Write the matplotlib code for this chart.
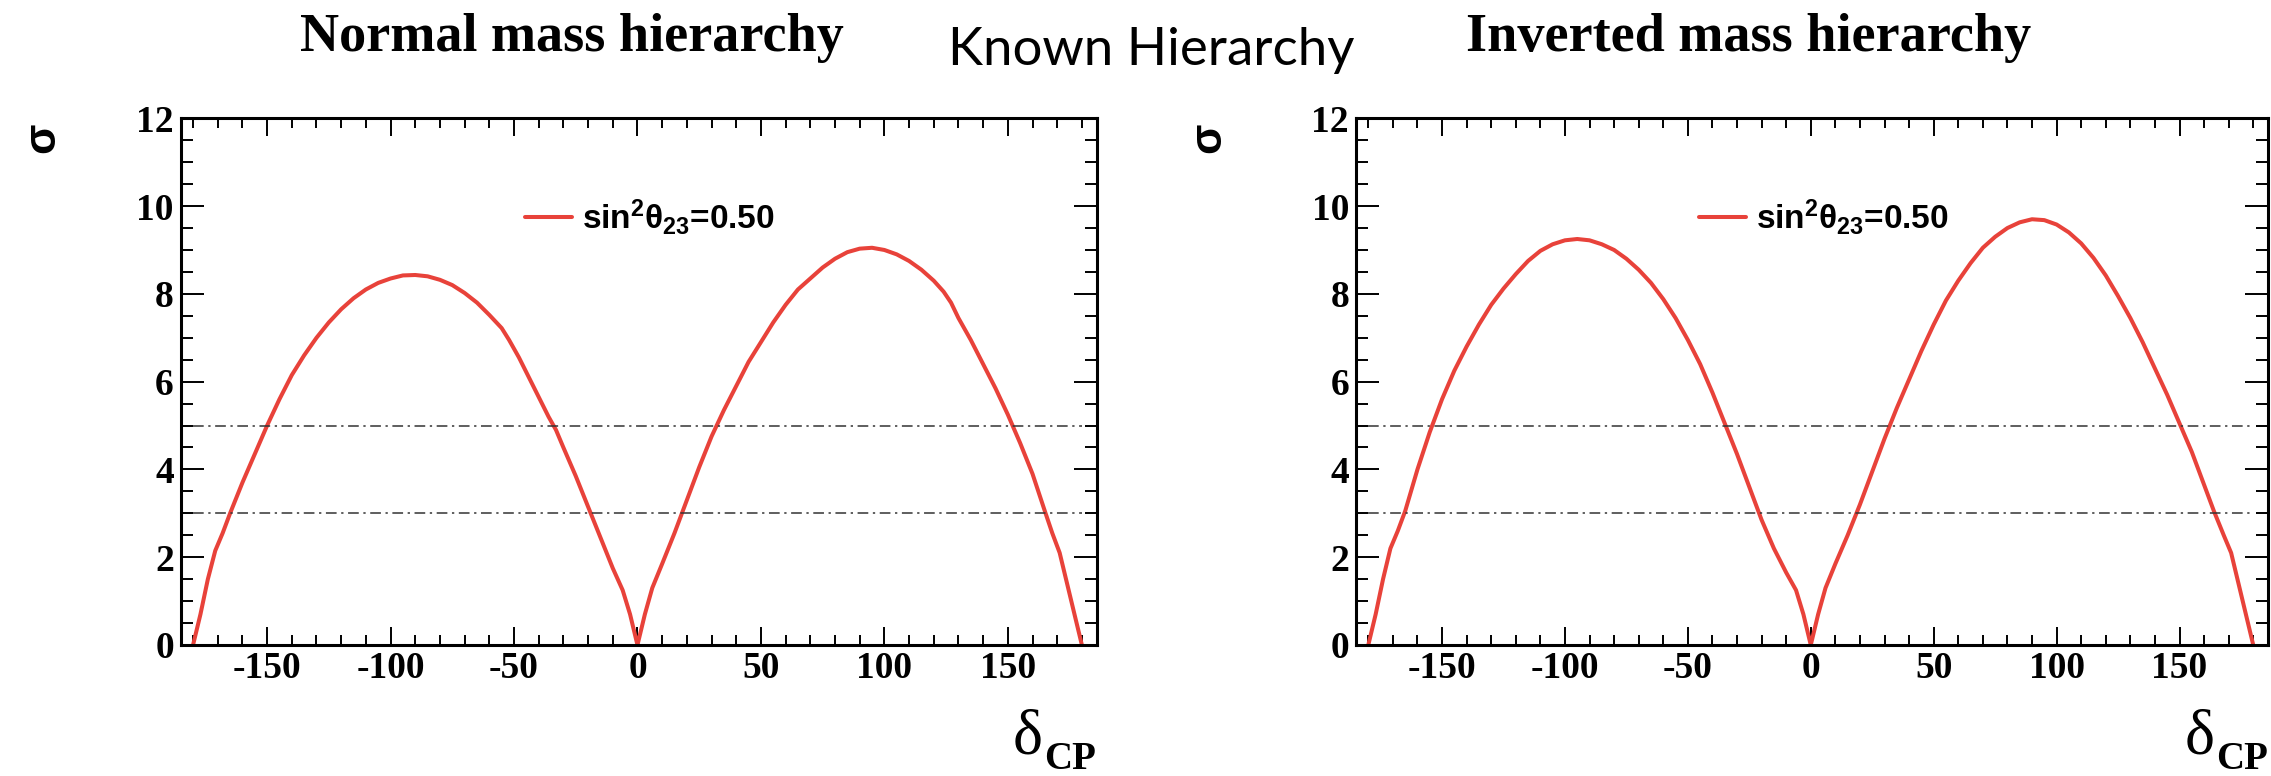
import numpy as np
import matplotlib
matplotlib.use("Agg")
import matplotlib.pyplot as plt
from matplotlib.ticker import MultipleLocator

plt.rcParams['mathtext.default'] = 'regular'
plt.rcParams['axes.unicode_minus'] = False

# delta_CP (degrees) and sigma for both hierarchies
delta_nh = [-180, -177, -174, -171, -168, -165, -160, -155, -150, -145, -140, -135,
            -130, -125, -120, -115, -110, -105, -100, -95, -90, -85, -80, -75,
            -70, -65, -60, -55, -52, -48, -44, -40, -36, -33, -30, -25, -20,
            -15, -10, -6, -3, 0,
            3, 6, 10, 15, 20, 25, 30, 35, 40, 45, 50, 55, 60, 65, 70, 75,
            80, 85, 90, 95, 100, 105, 110, 115, 120, 124, 127, 130, 135, 140,
            145, 150, 155, 160, 165, 168, 171, 174, 177, 180]
sigma_nh = [0.0, 0.7, 1.5, 2.15, 2.55, 3.0, 3.7, 4.35, 5.0, 5.6, 6.15, 6.6,
            7.0, 7.35, 7.65, 7.9, 8.1, 8.25, 8.35, 8.42, 8.43, 8.4, 8.32, 8.2,
            8.02, 7.8, 7.52, 7.22, 6.95, 6.55, 6.1, 5.65, 5.2, 4.9, 4.5, 3.85, 3.15,
            2.45, 1.75, 1.25, 0.7, 0.0,
            0.7, 1.3, 1.85, 2.55, 3.3, 4.05, 4.75, 5.35, 5.9, 6.45, 6.9, 7.35, 7.75, 8.1, 8.35, 8.6,
            8.8, 8.95, 9.03, 9.05, 9.0, 8.9, 8.75, 8.55, 8.3, 8.05, 7.8, 7.45, 6.95, 6.4,
            5.85, 5.25, 4.6, 3.9, 3.05, 2.55, 2.1, 1.4, 0.7, 0.0]

delta_ih = [-180, -177, -174, -171, -168, -165, -160, -155, -150, -145, -140, -135,
            -130, -125, -120, -115, -110, -105, -100, -95, -90, -85, -80, -75,
            -70, -65, -60, -55, -50, -45, -40, -35, -30, -25, -20,
            -15, -10, -6, -3, 0,
            3, 6, 10, 15, 20, 25, 30, 35, 40, 45, 50, 55, 60, 65, 70, 75,
            80, 85, 90, 95, 100, 105, 110, 115, 120, 125, 130, 135, 140,
            145, 150, 155, 160, 164, 168, 171, 174, 177, 180]
sigma_ih = [0.0, 0.7, 1.5, 2.2, 2.6, 3.05, 4.0, 4.85, 5.6, 6.25, 6.8, 7.3,
            7.75, 8.12, 8.45, 8.75, 8.98, 9.13, 9.22, 9.25, 9.22, 9.13, 9.0, 8.8,
            8.55, 8.25, 7.88, 7.45, 6.95, 6.4, 5.75, 5.05, 4.35, 3.6, 2.85,
            2.2, 1.65, 1.25, 0.7, 0.0,
            0.7, 1.3, 1.85, 2.5, 3.2, 3.95, 4.7, 5.4, 6.05, 6.7, 7.3, 7.85, 8.3, 8.7, 9.05, 9.3,
            9.5, 9.63, 9.7, 9.68, 9.58, 9.4, 9.15, 8.82, 8.42, 7.95, 7.45, 6.9, 6.3,
            5.7, 5.05, 4.4, 3.65, 3.05, 2.5, 2.1, 1.4, 0.7, 0.0]

levels = [5, 3]
xticks = [-150, -100, -50, 0, 50, 100, 150]
yticks = [0, 2, 4, 6, 8, 10, 12]
titles = ["Normal mass hierarchy", "Inverted mass hierarchy"]
legend_label = r'sin$^{2}\theta_{23}$=0.50'

W, H = 2271, 776
fig = plt.figure(figsize=(W / 100, H / 100), dpi=100)

red = '#e8423a'
serif = 'Liberation Serif'

def make_panel(left_px, right_px, delta, sigma):
    ax = fig.add_axes([left_px / W, (H - 645) / H, (right_px - left_px) / W, (645 - 118.3) / H])
    ax.plot(delta, sigma, color=red, lw=2.9, label=legend_label,
            solid_joinstyle='round', solid_capstyle='round')
    for lv in levels:
        ax.hlines(lv, -180, 180, colors='#333333', lw=1.1, linestyles=(0, (7, 3, 1.5, 3)))
    ax.set_xlim(-185, 186)
    ax.set_ylim(0, 12)
    ax.set_xticks(xticks)
    ax.set_yticks(yticks)
    ax.xaxis.set_minor_locator(MultipleLocator(10))
    ax.yaxis.set_minor_locator(MultipleLocator(0.5))
    ax.tick_params(which='both', direction='in', top=True, right=True, width=1.4)
    ax.tick_params(axis='y', which='major', length=16.5, pad=5)
    ax.tick_params(axis='y', which='minor', length=8.5)
    ax.tick_params(axis='x', which='major', length=13, pad=4)
    ax.tick_params(axis='x', which='minor', length=7)
    for lab in ax.get_xticklabels() + ax.get_yticklabels():
        lab.set_family(serif)
        lab.set_weight('bold')
        lab.set_fontsize(27)
    for sp in ax.spines.values():
        sp.set_linewidth(2.2)
    ax.legend(loc='center left', bbox_to_anchor=(0.376, 0.813), frameon=False,
              borderpad=0, borderaxespad=0, handlelength=1.4, handletextpad=0.3,
              prop={'family': 'Liberation Sans', 'weight': 'bold', 'size': 24})
    return ax

ax1 = make_panel(180.7, 1096.7, delta_nh, sigma_nh)
ax2 = make_panel(1356, 2268, delta_ih, sigma_ih)

# titles
fig.text(572 / W, 1 - 38 / H, titles[0], ha='center', va='center',
         family=serif, weight='bold', fontsize=39)
fig.text(1749 / W, 1 - 38 / H, titles[1], ha='center', va='center',
         family=serif, weight='bold', fontsize=39)
fig.text(1151 / W, 1 - 50 / H, "Known Hierarchy", ha='center', va='center',
         family='Lato', fontsize=38)

# axis titles
for xs, xd in [(43, 1096), (1209, 2268)]:
    fig.text(xs / W, 1 - 138 / H, 'σ', rotation=90, ha='center', va='center',
             family='Liberation Sans', weight='bold', fontsize=32)
    fig.text((xd - 53) / W, 1 - 754 / H, 'δ', ha='right', va='baseline',
             family=serif, fontsize=46)
    fig.text(xd / W, 1 - 769 / H, 'CP', ha='right', va='baseline',
             family=serif, weight='bold', fontsize=28)

fig.savefig('out.png', dpi=100)
